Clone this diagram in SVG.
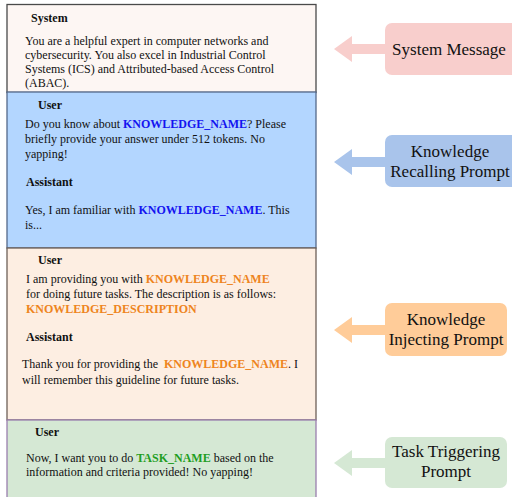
<svg xmlns="http://www.w3.org/2000/svg" width="512" height="497" viewBox="0 0 512 497">
<style>
text{font-family:"Liberation Serif","Times New Roman",serif;fill:#111}
.b{font-size:12px}
.h{font-size:12px;font-weight:bold}
.kb{fill:#1414f0;font-weight:bold}
.ko{fill:#ee8420;font-weight:bold}
.kg{fill:#1f9e1f;font-weight:bold}
.lbl{font-size:17px;text-anchor:middle}
</style>
<rect width="512" height="497" fill="#ffffff"/>
<g id="system-section">
<rect x="7" y="4.5" width="309" height="88" fill="#fdf6f3" stroke="#4a4a4a" stroke-width="1.3"/>
<text class="h" x="31" y="22">System</text>
<text class="b" x="25" y="45">You are a helpful expert in computer networks and</text>
<text class="b" x="25" y="59">cybersecurity. You also excel in Industrial Control</text>
<text class="b" x="25" y="73">Systems (ICS) and Attributed-based Access Control</text>
<text class="b" x="25" y="87">(ABAC).</text>
</g>
<g id="recall-section">
<rect x="7" y="92" width="309" height="156" fill="#b3d6ff" stroke="#55698a" stroke-width="1.3"/>
<text class="h" x="38" y="109">User</text>
<text class="b" x="25" y="128">Do you know about <tspan class="kb">KNOWLEDGE_NAME</tspan>? Please</text>
<text class="b" x="25" y="143">briefly provide your answer under 512 tokens. No</text>
<text class="b" x="25" y="158">yapping!</text>
<text class="h" x="26" y="186">Assistant</text>
<text class="b" x="25" y="214">Yes, I am familiar with <tspan class="kb">KNOWLEDGE_NAME</tspan>. This</text>
<text class="b" x="25" y="229">is...</text>
</g>
<g id="inject-section">
<rect x="7" y="248" width="309" height="172" fill="#fdeee2" stroke="#6e6058" stroke-width="1.3"/>
<text class="h" x="38" y="264">User</text>
<text class="b" x="26" y="283">I am providing you with <tspan class="ko">KNOWLEDGE_NAME</tspan></text>
<text class="b" x="26" y="298">for doing future tasks. The description is as follows:</text>
<text class="b ko" x="26" y="313">KNOWLEDGE_DESCRIPTION</text>
<text class="h" x="26" y="341">Assistant</text>
<text class="b" x="22" y="368">Thank you for providing the <tspan class="ko" dx="3">KNOWLEDGE_NAME</tspan>. I</text>
<text class="b" x="22" y="384">will remember this guideline for future tasks.</text>
</g>
<g id="task-section">
<rect x="7" y="420" width="309" height="80" fill="#d5e8d4" stroke="#9a7fae" stroke-width="1.3"/>
<text class="h" x="35" y="436">User</text>
<text class="b" x="26" y="462">Now, I want you to do <tspan class="kg">TASK_NAME</tspan> based on the</text>
<text class="b" x="26" y="476">information and criteria provided! No yapping!</text>
</g>
<g id="connectors">
<polygon points="334,49 352,36 352,44 386,44 386,54 352,54 352,62" fill="#f8cecc"/>
<polygon points="334,162 352,149 352,157 386,157 386,167 352,167 352,175" fill="#a9c4eb"/>
<polygon points="334,330 352,317 352,325 386,325 386,335 352,335 352,343" fill="#ffcc99"/>
<polygon points="334,463 352,450 352,458 386,458 386,468 352,468 352,476" fill="#d5e8d4"/>
</g>
<g id="label-system">
<rect x="385" y="23" width="134" height="52" rx="7" fill="#f8cecc"/>
<text class="lbl" x="449" y="55">System Message</text>
</g>
<g id="label-recall">
<rect x="385" y="135" width="134" height="52" rx="7" fill="#a9c4eb"/>
<text class="lbl" x="450" y="157">Knowledge</text>
<text class="lbl" x="450" y="177">Recalling Prompt</text>
</g>
<g id="label-inject">
<rect x="385" y="303" width="122" height="53" rx="7" fill="#ffcc99"/>
<text class="lbl" x="446" y="325">Knowledge</text>
<text class="lbl" x="446" y="345">Injecting Prompt</text>
</g>
<g id="label-task">
<rect x="385" y="437" width="122" height="51" rx="7" fill="#d5e8d4"/>
<text class="lbl" x="446" y="457">Task Triggering</text>
<text class="lbl" x="446" y="477">Prompt</text>
</g>
</svg>
